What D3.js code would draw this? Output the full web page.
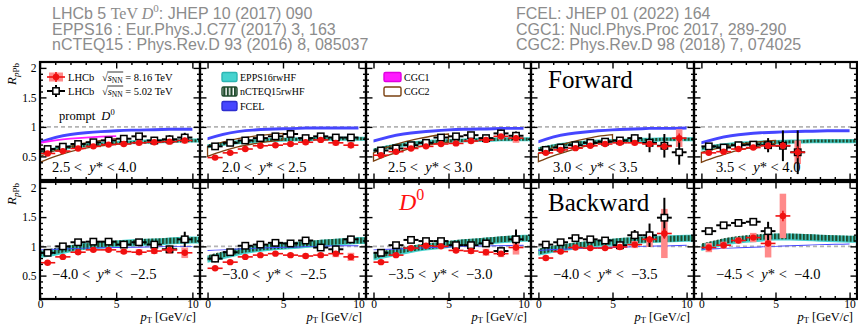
<!DOCTYPE html>
<html>
<head>
<meta charset="utf-8">
<script src="https://cdn.jsdelivr.net/npm/d3@7"></script>
<style>
  body { margin: 0; background: #fff; }
  svg { display: block; }
  text { white-space: pre; }
</style>
</head>
<body>
<svg id="chart" width="858" height="324"></svg>
<script>
// ---------------- data ----------------
const ptCenters = [0.5, 1.5, 2.5, 3.5, 4.5, 5.5, 6.5, 7.5, 8.5, 9.5];
const theoryPt = [0, 1, 2, 3, 4, 5, 6, 7, 8, 9, 10, 10.5];
const fcelPt = [0, 1, 2, 3, 4, 5, 6, 7, 8, 9, 10];
const cgcPt = [0, 1, 2, 3, 4, 5];

const rapidityLow  = ["2.5", "2.0", "2.5", "3.0", "3.5", "\u22124.0", "\u22123.0", "\u22123.5", "\u22124.0", "\u22124.5"];
const rapidityHigh = ["4.0", "2.5", "3.0", "3.5", "4.0", "\u22122.5", "\u22122.5", "\u22123.0", "\u22123.5", "\u22124.0"];

const headerLeft = ["EPPS16 : Eur.Phys.J.C77 (2017) 3, 163", "nCTEQ15 : Phys.Rev.D 93 (2016) 8, 085037"];
const headerRight = ["FCEL: JHEP 01 (2022) 164", "CGC1: Nucl.Phys.Proc 2017, 289-290", "CGC2: Phys.Rev.D 98 (2018) 7, 074025"];

const xMajorTicks = [0, 5, 10];
const yMajorTicks = [0.5, 1, 1.5, 2];

// LHCb 8.16 TeV prompt D0 R_pPb
const rpPb816 = [
  [0.55, 0.59, 0.635, 0.67, 0.70, 0.71, 0.73, 0.74, 0.75, 0.77],
  [0.48, 0.56, 0.625, 0.68, 0.69, 0.71, 0.74, 0.78, 0.73, 0.69],
  [0.52, 0.58, 0.635, 0.67, 0.71, 0.72, 0.76, 0.78, 0.84, 0.81],
  [0.56, 0.61, 0.64, 0.68, 0.71, 0.73, 0.73, 0.71, 0.67, 0.81],
  [0.56, 0.58, 0.625, 0.65, 0.68, 0.68, 0.57],
  [0.72, 0.82, 0.90, 0.94, 0.94, 0.91, 0.90, 0.92, 0.94, 0.89],
  [0.625, 0.73, 0.82, 0.85, 0.875, 0.85, 0.835, 0.85, 0.875, 0.82],
  [0.73, 0.85, 0.97, 1.01, 1.00, 0.93, 0.92, 0.90, 0.875, 0.98],
  [0.80, 0.91, 0.98, 0.97, 0.97, 0.99, 1.03, 1.12, 1.22],
  [0.98, 1.02, 1.10, 1.15, 1.05, 1.52]
];
const stat816 = [
  [0.02, 0.015, 0.015, 0.015, 0.02, 0.02, 0.025, 0.03, 0.035, 0.045],
  [0.02, 0.015, 0.015, 0.015, 0.02, 0.02, 0.025, 0.03, 0.04, 0.05],
  [0.02, 0.015, 0.015, 0.015, 0.02, 0.02, 0.025, 0.03, 0.04, 0.05],
  [0.02, 0.015, 0.015, 0.02, 0.02, 0.025, 0.03, 0.04, 0.06, 0.08],
  [0.02, 0.02, 0.02, 0.03, 0.05, 0.06, 0.10],
  [0.02, 0.015, 0.015, 0.015, 0.02, 0.02, 0.025, 0.03, 0.04, 0.05],
  [0.02, 0.015, 0.015, 0.015, 0.02, 0.02, 0.025, 0.03, 0.04, 0.05],
  [0.02, 0.015, 0.015, 0.015, 0.02, 0.02, 0.025, 0.03, 0.04, 0.05],
  [0.02, 0.02, 0.02, 0.02, 0.02, 0.03, 0.04, 0.06, 0.09],
  [0.02, 0.02, 0.03, 0.04, 0.05, 0.09]
];
const sys816 = [
  [0.03, 0.03, 0.03, 0.03, 0.03, 0.035, 0.04, 0.04, 0.045, 0.05],
  [0.03, 0.03, 0.03, 0.03, 0.03, 0.035, 0.04, 0.04, 0.045, 0.05],
  [0.03, 0.03, 0.03, 0.03, 0.03, 0.035, 0.04, 0.045, 0.05, 0.08],
  [0.03, 0.03, 0.03, 0.03, 0.03, 0.035, 0.04, 0.05, 0.06, 0.15],
  [0.03, 0.03, 0.03, 0.03, 0.04, 0.06, 0.20],
  [0.03, 0.03, 0.03, 0.03, 0.03, 0.04, 0.05, 0.05, 0.07, 0.09],
  [0.03, 0.03, 0.03, 0.03, 0.03, 0.035, 0.04, 0.04, 0.06, 0.07],
  [0.03, 0.03, 0.03, 0.03, 0.03, 0.04, 0.05, 0.06, 0.06, 0.12],
  [0.04, 0.03, 0.03, 0.03, 0.03, 0.05, 0.06, 0.13, 0.42],
  [0.08, 0.06, 0.05, 0.08, 0.24, 0.38]
];

// LHCb 5.02 TeV prompt D0 R_pPb
const rpPb502 = [
  [0.625, 0.665, 0.71, 0.74, 0.77, 0.80, 0.84, 0.77, 0.79, 0.82],
  [0.67, 0.73, 0.77, 0.81, 0.84, 0.88, 0.81, 0.84, 0.82, 0.82],
  [0.60, 0.635, 0.69, 0.73, 0.82, 0.84, 0.86, 0.81, 0.89, 0.85],
  [0.61, 0.65, 0.69, 0.73, 0.75, 0.77, 0.81, 0.73, 0.68, 0.57],
  [0.67, 0.65, 0.69, 0.70, 0.69, 0.68, 0.57],
  [0.89, 1.00, 1.07, 1.08, 1.08, 1.03, 1.07, 1.03, 0.95, 1.12],
  [0.79, 0.90, 1.01, 1.03, 1.06, 1.05, 1.10, 0.98, 0.95, 1.12],
  [0.89, 1.02, 1.11, 1.09, 1.09, 1.02, 1.02, 1.05, 0.92, 1.12],
  [1.03, 1.07, 1.14, 1.12, 1.10, 1.02, 1.19, 1.19, 1.49],
  [1.26, 1.36, 1.40, 1.42, 1.26]
];
const err502 = [
  [0.03, 0.03, 0.03, 0.03, 0.035, 0.04, 0.05, 0.06, 0.07, 0.08],
  [0.03, 0.03, 0.03, 0.03, 0.035, 0.04, 0.05, 0.05, 0.06, 0.06],
  [0.03, 0.03, 0.03, 0.03, 0.035, 0.04, 0.05, 0.05, 0.06, 0.07],
  [0.03, 0.03, 0.03, 0.03, 0.035, 0.04, 0.06, 0.16, 0.20, 0.21],
  [0.03, 0.03, 0.03, 0.04, 0.12, 0.26, 0.37],
  [0.05, 0.04, 0.04, 0.04, 0.04, 0.04, 0.05, 0.06, 0.06, 0.13],
  [0.06, 0.05, 0.04, 0.04, 0.04, 0.04, 0.05, 0.05, 0.06, 0.06],
  [0.04, 0.04, 0.04, 0.04, 0.04, 0.04, 0.05, 0.05, 0.06, 0.17],
  [0.04, 0.04, 0.04, 0.04, 0.04, 0.05, 0.09, 0.20, 0.34],
  [0.04, 0.04, 0.04, 0.05, 0.16]
];

// EPPS16rwHF band centre (on theoryPt grid)
const eppsCentre = [
  [0.56, 0.62, 0.66, 0.69, 0.71, 0.73, 0.74, 0.75, 0.76, 0.765, 0.77, 0.77],
  [0.67, 0.71, 0.74, 0.76, 0.775, 0.785, 0.79, 0.795, 0.80, 0.80, 0.80, 0.80],
  [0.60, 0.66, 0.70, 0.73, 0.75, 0.76, 0.77, 0.78, 0.785, 0.79, 0.79, 0.79],
  [0.62, 0.67, 0.71, 0.73, 0.75, 0.76, 0.77, 0.78, 0.785, 0.79, 0.79, 0.79],
  [0.63, 0.67, 0.70, 0.72, 0.735, 0.745, 0.75, 0.755, 0.76, 0.76, 0.76, 0.76],
  [0.86, 0.90, 0.96, 1.00, 1.02, 1.04, 1.06, 1.07, 1.08, 1.10, 1.11, 1.11],
  [0.78, 0.84, 0.90, 0.95, 0.98, 1.00, 1.02, 1.04, 1.06, 1.08, 1.10, 1.10],
  [0.82, 0.87, 0.92, 0.97, 1.00, 1.03, 1.06, 1.08, 1.10, 1.12, 1.14, 1.14],
  [0.90, 0.95, 0.99, 1.02, 1.05, 1.07, 1.09, 1.11, 1.12, 1.13, 1.14, 1.14],
  [0.98, 1.04, 1.09, 1.12, 1.14, 1.16, 1.16, 1.15, 1.14, 1.13, 1.12, 1.12]
];
const eppsHalfWidth = [0.035, 0.035, 0.035, 0.035, 0.035, 0.06, 0.06, 0.06, 0.06, 0.06];

// nCTEQ15rwHF band centre (on theoryPt grid)
const ncteqCentre = [
  [0.57, 0.62, 0.66, 0.685, 0.705, 0.72, 0.735, 0.745, 0.755, 0.76, 0.765, 0.765],
  [0.68, 0.715, 0.74, 0.76, 0.775, 0.785, 0.79, 0.795, 0.80, 0.80, 0.80, 0.80],
  [0.61, 0.665, 0.70, 0.73, 0.75, 0.76, 0.77, 0.78, 0.785, 0.79, 0.79, 0.79],
  [0.63, 0.675, 0.71, 0.735, 0.75, 0.76, 0.77, 0.78, 0.785, 0.79, 0.79, 0.79],
  [0.64, 0.675, 0.70, 0.72, 0.735, 0.745, 0.75, 0.755, 0.76, 0.76, 0.76, 0.76],
  [0.88, 0.92, 0.97, 1.00, 1.03, 1.05, 1.06, 1.08, 1.09, 1.10, 1.11, 1.11],
  [0.80, 0.86, 0.92, 0.96, 0.99, 1.01, 1.03, 1.05, 1.07, 1.09, 1.10, 1.10],
  [0.84, 0.89, 0.94, 0.98, 1.01, 1.04, 1.07, 1.09, 1.11, 1.13, 1.14, 1.14],
  [0.91, 0.96, 1.00, 1.03, 1.06, 1.08, 1.10, 1.11, 1.12, 1.13, 1.14, 1.14],
  [1.00, 1.06, 1.11, 1.14, 1.16, 1.17, 1.17, 1.16, 1.15, 1.14, 1.13, 1.13]
];
const ncteqHalfWidth = [0.025, 0.025, 0.025, 0.025, 0.025, 0.05, 0.05, 0.05, 0.05, 0.05];

// FCEL (on fcelPt grid)
const fcelCentre = [
  [0.74, 0.82, 0.87, 0.90, 0.92, 0.935, 0.945, 0.95, 0.955, 0.96, 0.96],
  [0.80, 0.87, 0.92, 0.945, 0.96, 0.97, 0.975, 0.98, 0.98, 0.98, 0.98],
  [0.76, 0.83, 0.88, 0.91, 0.93, 0.95, 0.96, 0.965, 0.97, 0.975, 0.975],
  [0.75, 0.83, 0.88, 0.91, 0.935, 0.95, 0.96, 0.97, 0.975, 0.975, 0.98],
  [0.73, 0.80, 0.85, 0.88, 0.90, 0.91, 0.92, 0.925, 0.93, 0.935, 0.935],
  [0.94, 0.95, 0.96, 0.97, 0.975, 0.98, 0.985, 0.99, 0.995, 1.0, 1.0],
  [0.93, 0.94, 0.955, 0.965, 0.975, 0.985, 0.99, 1.0, 1.005, 1.01, 1.01],
  [0.94, 0.95, 0.96, 0.97, 0.98, 0.99, 1.0, 1.005, 1.01, 1.015, 1.02],
  [0.93, 0.945, 0.955, 0.965, 0.975, 0.985, 0.99, 1.0, 1.005, 1.01, 1.02],
  [0.95, 0.96, 0.97, 0.98, 0.99, 1.0, 1.01, 1.02, 1.03, 1.035, 1.04]
];
const fcelHalfWidth = [0.025, 0.025, 0.025, 0.025, 0.025, 0.008, 0.008, 0.008, 0.008, 0.008];

// CGC1 (first forward panel only, on cgcPt grid)
const cgc1Centre = [0.73, 0.77, 0.80, 0.82, 0.835, 0.845];
const cgc1HalfWidth = 0.015;

// CGC2 envelope, forward panels (on cgcPt grid)
const cgc2Low = [
  [0.40, 0.50, 0.58, 0.64, 0.68, 0.71],
  [0.50, 0.59, 0.66, 0.71, 0.75, 0.78],
  [0.42, 0.52, 0.60, 0.66, 0.71, 0.74],
  [0.41, 0.51, 0.59, 0.66, 0.72, 0.76],
  [0.40, 0.49, 0.57, 0.63, 0.68, 0.72]
];
const cgc2High = [
  [0.50, 0.60, 0.67, 0.73, 0.77, 0.80],
  [0.66, 0.74, 0.80, 0.84, 0.87, 0.89],
  [0.56, 0.66, 0.74, 0.80, 0.85, 0.88],
  [0.55, 0.65, 0.73, 0.79, 0.84, 0.87],
  [0.57, 0.63, 0.68, 0.72, 0.75, 0.77]
];

// ---------------- layout ----------------
const panelLeft  = [40, 200, 366, 531, 694];
const panelRight = [200, 366, 531, 694, 857];
const rowTop = [62, 182];
const rowBottom = [180, 299];

const serif = "'Liberation Serif','Times New Roman',serif";
const sans = "'Liberation Sans',Arial,sans-serif";

const colRed = "#f01010";
const colPink = "#ff8a8a";
const colCyan = "#45d3cf";
const colGreen = "#1f4b2c";
const colBlue = "#4646ff";
const colMagenta = "#ff1aff";
const colBrown = "#7a4010";

const svg = d3.select("#chart");
const defs = svg.append("defs");

// vertical hatch used for the nCTEQ15 band
const hatch = defs.append("pattern")
  .attr("id", "hatch").attr("patternUnits", "userSpaceOnUse")
  .attr("width", 3.6).attr("height", 10);
hatch.append("rect").attr("width", 2.2).attr("height", 10).attr("fill", colGreen);

// ---------------- header references ----------------
const header = svg.append("g").attr("fill", "#8c8c8c").attr("font-family", sans).attr("font-size", 16);
const h1 = header.append("text").attr("x", 52).attr("y", 19);
h1.append("tspan").text("LHCb 5 ");
h1.append("tspan").attr("font-family", serif).text("TeV ");
h1.append("tspan").attr("font-family", serif).attr("font-style", "italic").text("D");
h1.append("tspan").attr("font-family", serif).attr("font-size", 11).attr("dy", -7).text("0");
h1.append("tspan").attr("dy", 7).text(": JHEP 10 (2017) 090");
headerLeft.forEach((s, k) => header.append("text").attr("x", 52).attr("y", 34.5 + 15.5 * k).text(s));
headerRight.forEach((s, k) => header.append("text").attr("x", 516).attr("y", 19 + 15.5 * k).text(s));

// ---------------- panels ----------------
function styleAxis(g) {
  g.select(".domain").remove();
  g.selectAll(".tick line").attr("stroke", "#000").attr("stroke-width", 1.4);
  g.selectAll(".tick text").attr("font-family", serif).attr("font-size", 11.5).attr("fill", "#000");
}

function drawAxes(g, x, y, labelX, labelY) {
  const [xa, xb] = x.range();
  const [yb, ya] = y.range();
  const minorX = d3.range(0, 11).filter(v => v % 5 !== 0);
  const minorY = d3.range(2, 21).filter(v => v % 5 !== 0).map(v => v / 10);
  const none = () => "";
  const sides = [
    [d3.axisBottom, `translate(0,${yb})`, x, xMajorTicks, minorX, labelX ? d3.format("d") : none, 1],
    [d3.axisTop, `translate(0,${ya})`, x, xMajorTicks, minorX, none, 3],
    [d3.axisLeft, `translate(${xa},0)`, y, yMajorTicks, minorY, labelY ? (v => String(v)) : none, 3.5],
    [d3.axisRight, `translate(${xb},0)`, y, yMajorTicks, minorY, none, 3]
  ];
  sides.forEach(([axisFn, tr, sc, major, minor, fmt, pad]) => {
    g.append("g").attr("transform", tr)
      .call(axisFn(sc).tickValues(minor).tickSize(-3).tickFormat(none)).call(styleAxis);
    g.append("g").attr("transform", tr)
      .call(axisFn(sc).tickValues(major).tickSize(-6.5).tickPadding(pad).tickFormat(fmt)).call(styleAxis);
  });
  g.append("rect").attr("x", xa).attr("y", ya).attr("width", xb - xa).attr("height", yb - ya)
    .attr("fill", "none").attr("stroke", "#000").attr("stroke-width", 2.2);
}

for (let i = 0; i < 10; i++) {
  const row = i < 5 ? 0 : 1, col = i % 5;
  const x = d3.scaleLinear().domain([col === 0 ? 0 : -0.5, 10.5]).range([panelLeft[col], panelRight[col]]);
  const y = d3.scaleLinear().domain([0.1, 2.1]).range([rowBottom[row], rowTop[row]]);
  const g = svg.append("g");

  defs.append("clipPath").attr("id", "clip" + i).append("rect")
    .attr("x", panelLeft[col]).attr("y", rowTop[row])
    .attr("width", panelRight[col] - panelLeft[col]).attr("height", rowBottom[row] - rowTop[row]);
  const plot = g.append("g").attr("clip-path", `url(#clip${i})`);

  // reference line at unity
  plot.append("line").attr("x1", x.range()[0]).attr("x2", x.range()[1])
    .attr("y1", y(1)).attr("y2", y(1))
    .attr("stroke", "#b4b4b4").attr("stroke-width", 1.6).attr("stroke-dasharray", "4,3");

  // theory bands
  const band = d3.area().x(d => x(d[0])).y0(d => y(d[1])).y1(d => y(d[2])).curve(d3.curveMonotoneX);
  const mk = (grid, c, hw) => grid.map((p, k) => [p, c[k] - hw, c[k] + hw]);

  plot.append("path").attr("d", band(mk(theoryPt, eppsCentre[i], eppsHalfWidth[i])))
    .attr("fill", colCyan);
  plot.append("path").attr("d", band(mk(theoryPt, ncteqCentre[i], ncteqHalfWidth[i])))
    .attr("fill", "url(#hatch)");
  plot.append("path").attr("d", band(mk(fcelPt, fcelCentre[i], fcelHalfWidth[i])))
    .attr("fill", colBlue);
  if (i === 0) {
    plot.append("path").attr("d", band(mk(cgcPt, cgc1Centre, cgc1HalfWidth)))
      .attr("fill", colMagenta);
  }
  if (i < 5) {
    plot.append("path").attr("d", band(cgcPt.map((p, k) => [p, cgc2Low[i][k], cgc2High[i][k]])))
      .attr("fill", "none").attr("stroke", colBrown).attr("stroke-width", 1.3);
  }

  // 8.16 TeV systematic boxes
  const red = rpPb816[i].map((v, k) => ({ pt: ptCenters[k], v, s: stat816[i][k], sy: sys816[i][k] }));
  plot.selectAll(".sys").data(red).join("rect")
    .attr("x", d => x(d.pt - 0.22)).attr("width", d => x(d.pt + 0.22) - x(d.pt - 0.22))
    .attr("y", d => y(d.v + d.sy)).attr("height", d => y(d.v - d.sy) - y(d.v + d.sy))
    .attr("fill", colPink);

  // 5.02 TeV points
  const blk = rpPb502[i].map((v, k) => ({ pt: ptCenters[k], v, e: err502[i][k] }));
  const bg = plot.append("g").attr("stroke", "#000").attr("stroke-width", 2);
  bg.selectAll(".bh").data(blk).join("line")
    .attr("x1", d => x(d.pt - 0.5)).attr("x2", d => x(d.pt + 0.5))
    .attr("y1", d => y(d.v)).attr("y2", d => y(d.v));
  bg.selectAll(".bv").data(blk).join("line")
    .attr("x1", d => x(d.pt)).attr("x2", d => x(d.pt))
    .attr("y1", d => y(d.v - d.e)).attr("y2", d => y(d.v + d.e));
  bg.selectAll(".bm").data(blk).join("rect")
    .attr("x", d => x(d.pt) - 3.2).attr("y", d => y(d.v) - 3.2)
    .attr("width", 6.4).attr("height", 6.4).attr("fill", "#fff").attr("stroke-width", 1.5);

  // 8.16 TeV points
  const rg = plot.append("g").attr("stroke", colRed).attr("stroke-width", 1.6);
  rg.selectAll(".rh").data(red).join("line")
    .attr("x1", d => x(d.pt - 0.5)).attr("x2", d => x(d.pt + 0.5))
    .attr("y1", d => y(d.v)).attr("y2", d => y(d.v));
  rg.selectAll(".rv").data(red).join("line")
    .attr("x1", d => x(d.pt)).attr("x2", d => x(d.pt))
    .attr("y1", d => y(d.v - d.s)).attr("y2", d => y(d.v + d.s));
  rg.selectAll(".rm").data(red).join("circle")
    .attr("cx", d => x(d.pt)).attr("cy", d => y(d.v)).attr("r", 3.2)
    .attr("fill", colRed).attr("stroke", "none");

  drawAxes(g, x, y, row === 1, col === 0);

  // rapidity interval
  const rl = g.append("text").attr("font-family", serif).attr("font-size", 14.5)
    .attr("x", panelLeft[col] + (col === 0 ? 12 : 22)).attr("y", row === 0 ? 172 : 279);
  rl.append("tspan").text(rapidityLow[i] + " <  ");
  rl.append("tspan").attr("font-style", "italic").text("y");
  rl.append("tspan").text("* < " + (row === 1 ? " " : "") + rapidityHigh[i]);

  // x-axis title on the bottom row
  if (row === 1) {
    const xt = g.append("text").attr("font-family", serif).attr("font-size", 12.5)
      .attr("text-anchor", "end").attr("x", panelRight[col] - 4).attr("y", 320.5);
    xt.append("tspan").attr("font-style", "italic").text("p");
    xt.append("tspan").attr("font-size", 8.5).attr("dy", 2.5).text("T");
    xt.append("tspan").attr("dy", -2.5).text(" [GeV/");
    xt.append("tspan").attr("font-style", "italic").text("c");
    xt.append("tspan").text("]");
  }
  // y-axis title on the first column
  if (col === 0) {
    const yt = g.append("text").attr("font-family", serif).attr("font-size", 13)
      .attr("text-anchor", "end")
      .attr("transform", `translate(16,${rowTop[row] + 1}) rotate(-90)`);
    yt.append("tspan").attr("font-style", "italic").text("R");
    yt.append("tspan").attr("font-size", 9).attr("dy", 3).attr("font-style", "italic").text("p");
    yt.append("tspan").attr("font-size", 9).text("Pb");
  }
}

// ---------------- annotations & legends ----------------
const ann = svg.append("g").attr("font-family", serif);

// data legend (first panel)
function legendRed(cx, cy) {
  ann.append("rect").attr("x", cx - 7).attr("y", cy - 4.5).attr("width", 14).attr("height", 9).attr("fill", colPink);
  ann.append("line").attr("x1", cx - 9).attr("x2", cx + 9).attr("y1", cy).attr("y2", cy).attr("stroke", colRed).attr("stroke-width", 1.6);
  ann.append("line").attr("x1", cx).attr("x2", cx).attr("y1", cy - 5).attr("y2", cy + 5).attr("stroke", colRed).attr("stroke-width", 1.6);
  ann.append("circle").attr("cx", cx).attr("cy", cy).attr("r", 3.2).attr("fill", colRed);
}
function legendBlack(cx, cy) {
  ann.append("line").attr("x1", cx - 9).attr("x2", cx + 9).attr("y1", cy).attr("y2", cy).attr("stroke", "#000").attr("stroke-width", 2);
  ann.append("line").attr("x1", cx).attr("x2", cx).attr("y1", cy - 6).attr("y2", cy + 6).attr("stroke", "#000").attr("stroke-width", 2);
  ann.append("rect").attr("x", cx - 3.2).attr("y", cy - 3.2).attr("width", 6.4).attr("height", 6.4)
    .attr("fill", "#fff").attr("stroke", "#000").attr("stroke-width", 1.5);
}
function legendEnergy(yb, energy) {
  ann.append("text").attr("x", 68).attr("y", yb).attr("font-size", 10.5).text("LHCb");
  const t = ann.append("text").attr("x", 102).attr("y", yb).attr("font-size", 10.5);
  t.append("tspan").text("\u221A");
  t.append("tspan").attr("font-style", "italic").text("s");
  t.append("tspan").attr("font-size", 7.5).attr("dy", 2.5).text("NN");
  t.append("tspan").attr("dy", -2.5).text(" = " + energy + " TeV");
  const node = t.node();
  const x0 = node.getStartPositionOfChar(1).x;
  const x1 = node.getEndPositionOfChar(3).x;
  ann.append("line").attr("x1", x0 - 0.5).attr("x2", x1 + 0.5).attr("y1", yb - 8.5).attr("y2", yb - 8.5)
    .attr("stroke", "#000").attr("stroke-width", 0.8);
}
legendRed(56, 77);
legendEnergy(80.5, "8.16");
legendBlack(56, 91);
legendEnergy(94.5, "5.02");

const pr = ann.append("text").attr("x", 59).attr("y", 120).attr("font-size", 12.5);
pr.append("tspan").text("prompt  ");
pr.append("tspan").attr("font-style", "italic").text("D");
pr.append("tspan").attr("font-size", 8.5).attr("dy", -5).text("0");

// model legend (second and third panels)
function legendBox(xb, yc, w, fill, stroke, label) {
  ann.append("rect").attr("x", xb).attr("y", yc - 4.5).attr("width", w).attr("height", 9).attr("rx", 1.5)
    .attr("fill", fill).attr("stroke", stroke).attr("stroke-width", 1.4);
  ann.append("text").attr("x", xb + w + 3).attr("y", yc + 3.5).attr("font-size", 10).text(label);
}
legendBox(222, 77, 15, colCyan, "#2cb5b2", "EPPS16rwHF");
ann.append("rect").attr("x", 222).attr("y", 87).attr("width", 15).attr("height", 9).attr("fill", "#fff");
legendBox(222, 91.5, 15, "url(#hatch)", colGreen, "nCTEQ15rwHF");
legendBox(222, 106, 15, colBlue, "#2d2dd0", "FCEL");
legendBox(384, 77, 17, colMagenta, "#e000e0", "CGC1");
legendBox(384, 91.5, 17, "#fff", colBrown, "CGC2");

ann.append("text").attr("x", 548).attr("y", 88).attr("font-size", 25).text("Forward");
ann.append("text").attr("x", 548).attr("y", 211).attr("font-size", 25).text("Backward");
const d0 = ann.append("text").attr("x", 399).attr("y", 210).attr("font-size", 24).attr("fill", "#ff1010");
d0.append("tspan").attr("font-style", "italic").text("D");
d0.append("tspan").attr("font-size", 16).attr("dy", -10).text("0");
</script>
</body>
</html>
